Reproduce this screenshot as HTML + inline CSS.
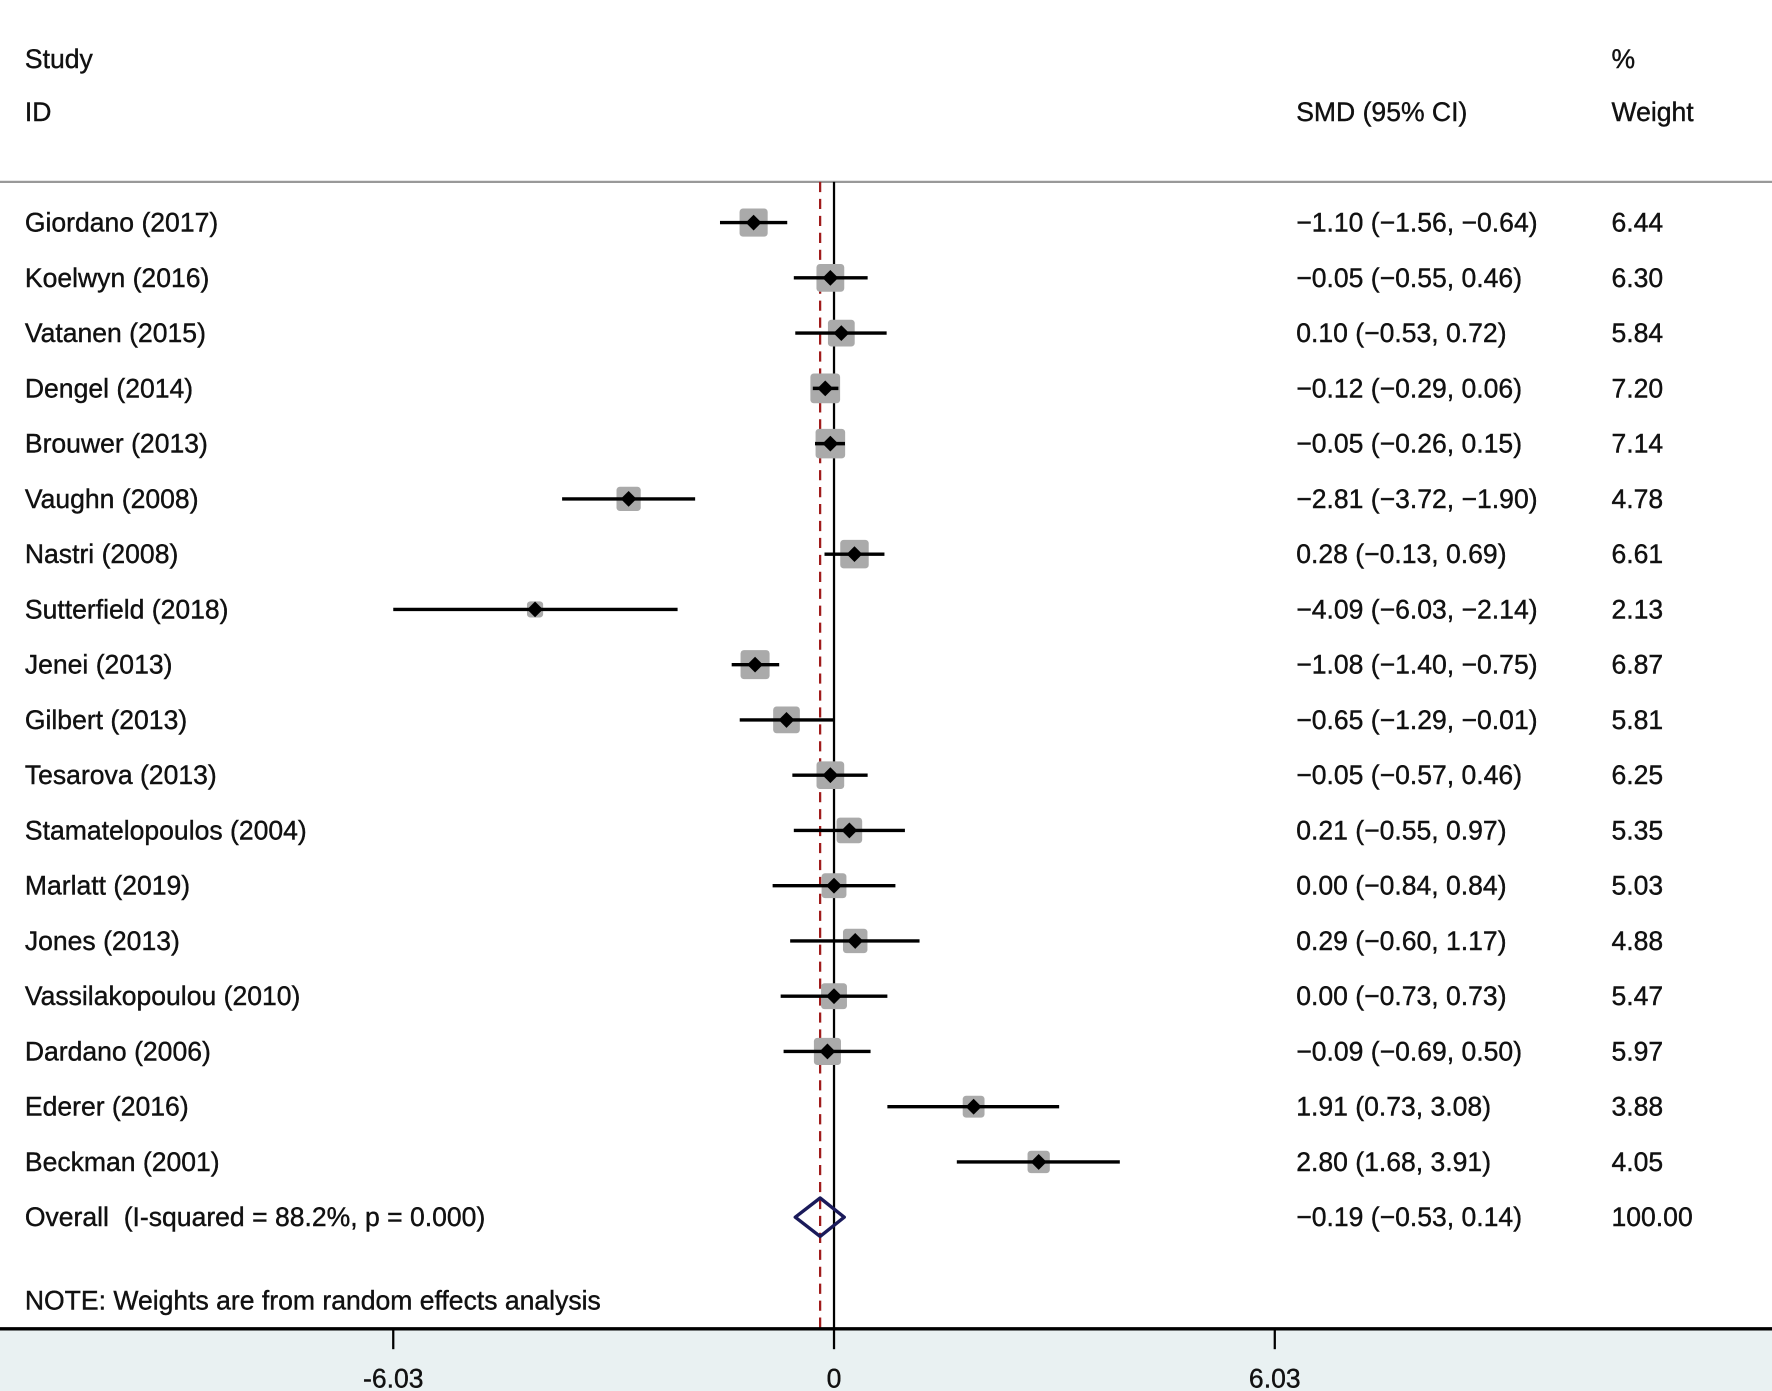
<!DOCTYPE html>
<html><head><meta charset="utf-8"><style>
html,body{margin:0;padding:0;background:#fff}
svg{display:block}
text{font-family:"Liberation Sans",Arial,sans-serif;font-size:23.5px;fill:#111;stroke:#111;stroke-width:0.35px;white-space:pre}
</style></head><body>
<svg id="plot" width="1772" height="1391" viewBox="0 0 1568 1231" preserveAspectRatio="none">
<rect x="0" y="1176" width="1568" height="55" fill="#e9f1f2"/>
<line x1="0" y1="161" x2="1568" y2="161" stroke="#999" stroke-width="2"/>
<text x="22" y="60">Study</text>
<text x="22" y="107">ID</text>
<text x="1147" y="107">SMD (95% CI)</text>
<text x="1426" y="60">%</text>
<text x="1426" y="107">Weight</text>
<text x="22" y="1159">NOTE: Weights are from random effects analysis</text>
<g id="marks"></g>
</svg>
<script>
const studies=["Giordano (2017)","Koelwyn (2016)","Vatanen (2015)","Dengel (2014)","Brouwer (2013)","Vaughn (2008)","Nastri (2008)","Sutterfield (2018)","Jenei (2013)","Gilbert (2013)","Tesarova (2013)","Stamatelopoulos (2004)","Marlatt (2019)","Jones (2013)","Vassilakopoulou (2010)","Dardano (2006)","Ederer (2016)","Beckman (2001)"];
const smd=[-1.10,-0.05,0.10,-0.12,-0.05,-2.81,0.28,-4.09,-1.08,-0.65,-0.05,0.21,0.00,0.29,0.00,-0.09,1.91,2.80];
const lo=[-1.56,-0.55,-0.53,-0.29,-0.26,-3.72,-0.13,-6.03,-1.40,-1.29,-0.57,-0.55,-0.84,-0.60,-0.73,-0.69,0.73,1.68];
const hi=[-0.64,0.46,0.72,0.06,0.15,-1.90,0.69,-2.14,-0.75,-0.01,0.46,0.97,0.84,1.17,0.73,0.50,3.08,3.91];
const weights=[6.44,6.30,5.84,7.20,7.14,4.78,6.61,2.13,6.87,5.81,6.25,5.35,5.03,4.88,5.47,5.97,3.88,4.05];
const overall=[-0.19,-0.53,0.14];
const ticks=[-6.03,0,6.03];
const tickLabels=["-6.03","0","6.03"];
const NS="http://www.w3.org/2000/svg";
const g=document.getElementById('marks');
const X=v=>738+v*64.68;
const Y=i=>197+i*48.9;
function mk(t,a){const e=document.createElementNS(NS,t);for(const k in a)e.setAttribute(k,a[k]);g.appendChild(e);return e;}
const f=v=>(v<0?"\u2212":"")+Math.abs(v).toFixed(2);
let e=mk('line',{x1:X(0),y1:161,x2:X(0),y2:1176,stroke:'#000','stroke-width':2});


e=mk('line',{x1:X(overall[0]),y1:161,x2:X(overall[0]),y2:1176,stroke:'#a01c1c','stroke-width':2,'stroke-dasharray':'9,6'});


studies.forEach((s,i)=>{
  const y=Y(i);
  let t=mk('text',{x:22,y:y+8});t.textContent=s;
  
  
  const sz=9.8*Math.sqrt(weights[i]);
  let r=mk('rect',{x:X(smd[i])-sz/2,y:y-sz/2,width:sz,height:sz,fill:'#aaa',rx:3});
  
  
  let l=mk('line',{x1:X(lo[i]),y1:y,x2:X(hi[i]),y2:y,stroke:'#000','stroke-width':3});
  
  
  const cx=X(smd[i]);
  let p=mk('polygon',{points:`${cx-7},${y} ${cx},${y-7} ${cx+7},${y} ${cx},${y+7}`,fill:'#000'});
  
  
  t=mk('text',{x:1147,y:y+8});t.textContent=`${f(smd[i])} (${f(lo[i])}, ${f(hi[i])})`;
  
  
  t=mk('text',{x:1426,y:y+8});t.textContent=weights[i].toFixed(2);
  
  
});
const oy=Y(studies.length);
let t=mk('text',{x:22,y:oy+8});t.textContent="Overall  (I-squared = 88.2%, p = 0.000)";


let d=mk('polygon',{points:`${X(overall[1])},${oy} ${X(overall[0])},${oy-17} ${X(overall[2])},${oy} ${X(overall[0])},${oy+17}`,fill:'none',stroke:'#1a1a5a','stroke-width':3,'stroke-linejoin':'round'});


t=mk('text',{x:1147,y:oy+8});t.textContent=`${f(overall[0])} (${f(overall[1])}, ${f(overall[2])})`;


t=mk('text',{x:1426,y:oy+8});t.textContent="100.00";


let ax=mk('line',{x1:0,y1:1176,x2:1568,y2:1176,stroke:'#000','stroke-width':3});


ticks.forEach((v,i)=>{
  let l=mk('line',{x1:X(v),y1:1176,x2:X(v),y2:1194,stroke:'#000','stroke-width':2});
  
  
  let tt=mk('text',{x:X(v),y:1228,'text-anchor':'middle'});tt.textContent=tickLabels[i];
  
  
});
</script>
</body></html>
